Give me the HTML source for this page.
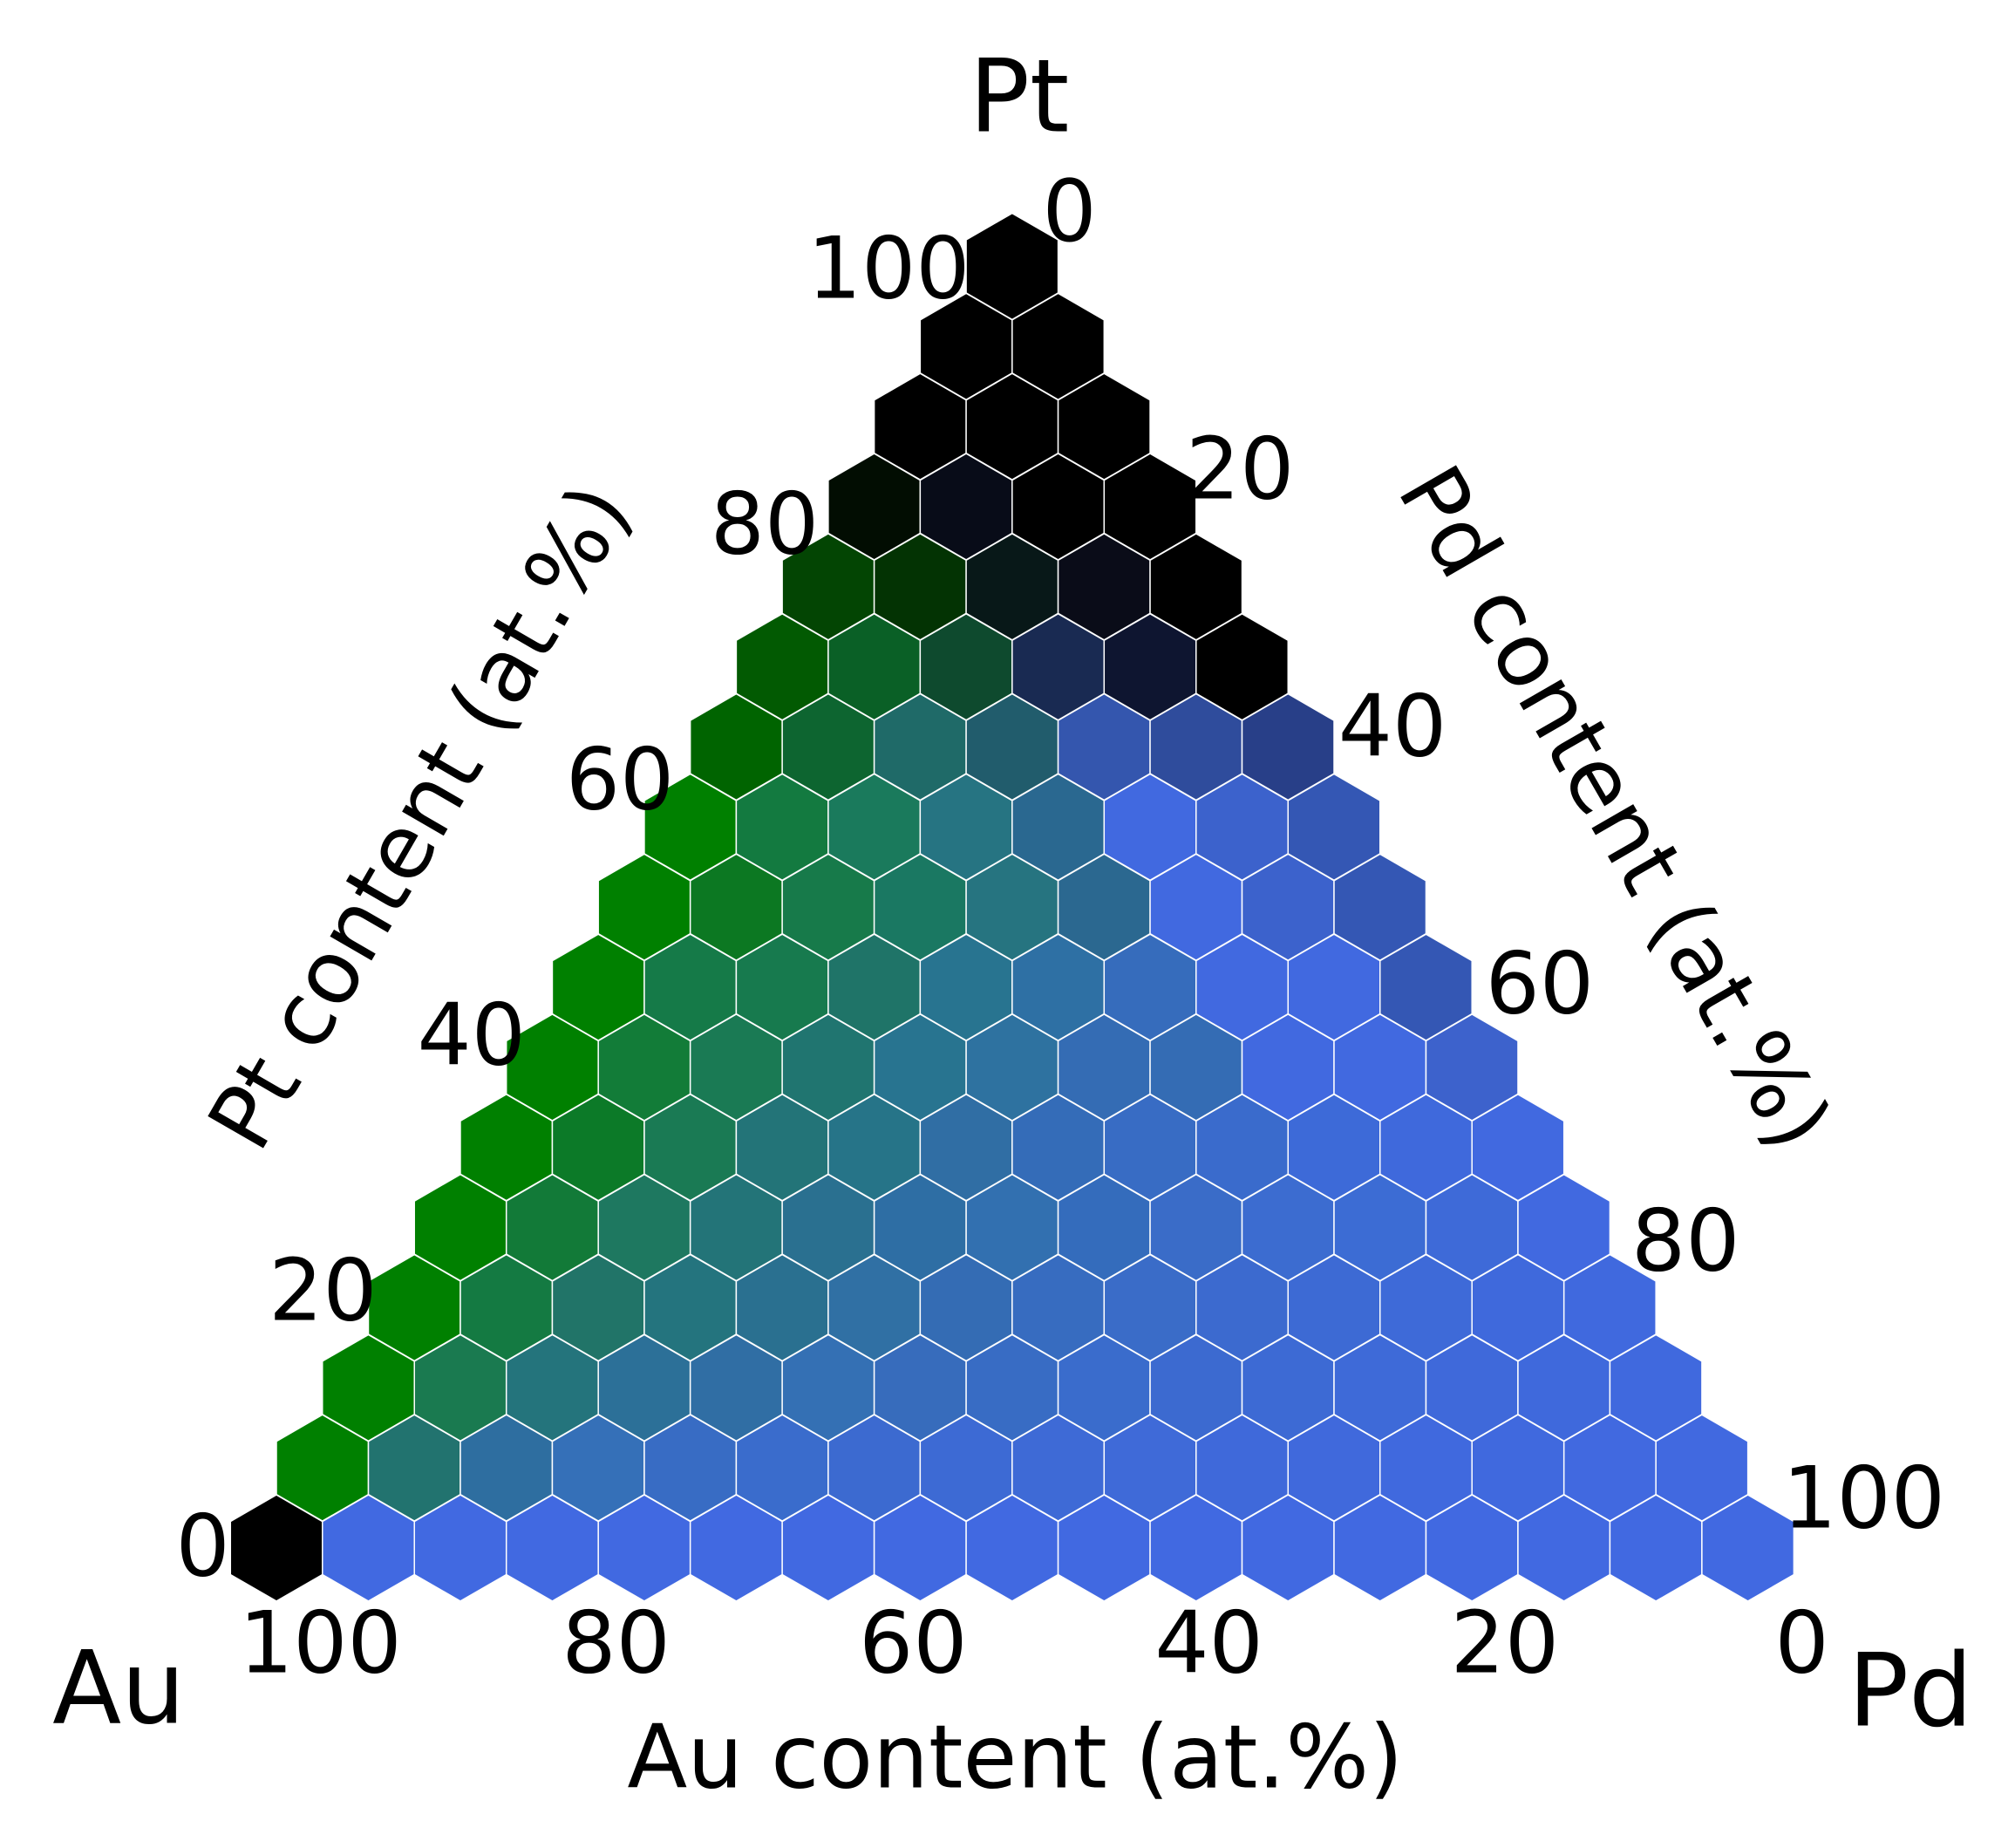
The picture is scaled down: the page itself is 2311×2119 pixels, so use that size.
<!DOCTYPE html>
<html><head><meta charset="utf-8"><style>
html,body{margin:0;padding:0;background:#fff;}
svg{display:block;}
text{font-family:"DejaVu Sans","Liberation Sans",sans-serif;fill:#000;}
</style></head><body>
<svg id="chart" width="2311" height="2119" viewBox="0 0 1560 1430" xmlns="http://www.w3.org/2000/svg">
<g id="hexes"></g>
<g id="labels"></g>
</svg>
<script>
// Colours of hexes, rows from bottom (Pt = 0) to top (Pt = 100); each row left (Au-rich) to right (Pd-rich)
const row0 = ["#000000","#4169e1","#4169e1","#4169e1","#4169e1","#4169e1","#4169e1","#4169e1","#4169e1","#4169e1","#4169e1","#4169e1","#4169e1","#4169e1","#4169e1","#4169e1","#4169e1"];
const row1 = ["#008000","#22736f","#2e6ea0","#3570b8","#386cc4","#3a6ccc","#3c6ad0","#3d6ad4","#3e6ad6","#3f6ad8","#3f69da","#4069dc","#4069de","#4069de","#4169e0","#4169e0"];
const row2 = ["#008000","#1a7a50","#24747c","#2c7098","#306ea4","#3470b4","#376cbc","#386cc4","#3a6ccc","#3c6ad0","#3d6ad4","#3e6ad8","#3f69da","#3f69dc","#4069de"];
const row3 = ["#008000","#147a42","#217468","#24747e","#2a7090","#3070a4","#346cb4","#376cc0","#3a6cc8","#3c6acf","#3d6ad4","#3e6ad8","#3f69dc","#4069de"];
const row4 = ["#008000","#127a38","#1e7860","#237478","#2a7090","#2e6ea4","#3270b0","#346cbc","#3a6cc8","#3c6cd0","#3c6cd4","#3e6ad8","#4169e0"];
const row5 = ["#008000","#0c7a28","#1a7a54","#237478","#267488","#306ea4","#346cb8","#386cc4","#3a6bcc","#3d6ad8","#3f69dc","#4169e0"];
const row6 = ["#008000","#127c38","#1a7a54","#207570","#287490","#2e72a0","#346cb4","#346cb4","#4169e0","#4169e0","#3d62cc"];
const row7 = ["#008000","#157a48","#177a4e","#1f7468","#287490","#2e70a4","#366cbc","#4169e0","#4169e0","#3457b4"];
const row8 = ["#008000","#0c7822","#177a4a","#1a7862","#267480","#2b6890","#4169e0","#3c62cc","#3457b4"];
const row9 = ["#008000","#137a40","#1a7a5c","#267482","#2a6890","#4169e0","#3c62cc","#3457b4"];
const row10 = ["#006400","#0d6530","#1f6a68","#215c6c","#3456ae","#2f4c9c","#283f88"];
const row11 = ["#025a02","#0a6026","#0e4a2e","#192a52","#0e1530","#000000"];
const row12 = ["#034503","#033303","#081818","#0a0c18","#000000"];
const row13 = ["#020d02","#080c18","#000000","#000000"];
const row14 = ["#000000","#000000","#000000"];
const row15 = ["#000000","#000000"];
const row16 = ["#000000"];
const rows = [row0,row1,row2,row3,row4,row5,row6,row7,row8,row9,row10,row11,row12,row13,row14,row15,row16];
const bottomTicks = ["100","80","60","40","20","0"];
const leftTicks = ["0","20","40","60","80","100"];
const rightTicks = ["0","20","40","60","80","100"];

const NS="http://www.w3.org/2000/svg";
const W=71.2, R=W/Math.sqrt(3), DY=62.0, X0=214, Y0=1198;
function cx(i,j){return X0+i*W+j*W/2;}
function cy(j){return Y0-j*DY;}
const hg=document.getElementById('hexes');
rows.forEach((row,j)=>{
  row.forEach((c,i)=>{
    const x=cx(i,j), y=cy(j);
    let pts=[];
    for(let k=0;k<6;k++){const a=Math.PI/180*(60*k-90);pts.push((x+R*Math.cos(a)).toFixed(2)+","+(y+R*Math.sin(a)).toFixed(2));}
    const p=document.createElementNS(NS,'polygon');
    p.setAttribute('points',pts.join(' '));
    p.setAttribute('fill',c);
    p.setAttribute('stroke','#ffffff');
    p.setAttribute('stroke-width','1');
    
    
    hg.appendChild(p);
  });
});
const lg=document.getElementById('labels');
function txt(s,x,y,size,rot,anchor,name){
  const t=document.createElementNS(NS,'text');
  t.textContent=s;
  t.setAttribute('x',x);t.setAttribute('y',y);
  t.setAttribute('font-size',size);
  t.setAttribute('text-anchor',anchor||'middle');
  t.setAttribute('dominant-baseline','central');
  if(rot)t.setAttribute('transform','rotate('+rot+' '+x+' '+y+')');
  
  
  lg.appendChild(t);
}
bottomTicks.forEach((s,k)=>{
  txt(s,[248,477,707,936,1165,1395][k],1272,66,0,'middle','bottom-tick-label');
});
leftTicks.forEach((s,k)=>{
  txt(s,[157,250,365,480,592,688][k],1197-k*197.8,66,0,'middle','left-tick-label');
});
rightTicks.forEach((s,k)=>{
  txt(s,[828,960,1078,1192,1305,1443][k],164+k*199.2,66,0,'middle','right-tick-label');
});
txt("Pt",789,75,78,0,'middle','pt-corner-label');
txt("Au",92,1307,78,0,'middle','au-corner-label');
txt("Pd",1479,1309,78,0,'middle','pd-corner-label');
txt("Au content (at.%)",786,1360,68,0,'middle','bottom-axis-title');
txt("Pt content (at.%)",325,632,68,-60,'middle','left-axis-title');
txt("Pd content (at.%)",1250,625,68,60,'middle','right-axis-title');
</script>
</body></html>
